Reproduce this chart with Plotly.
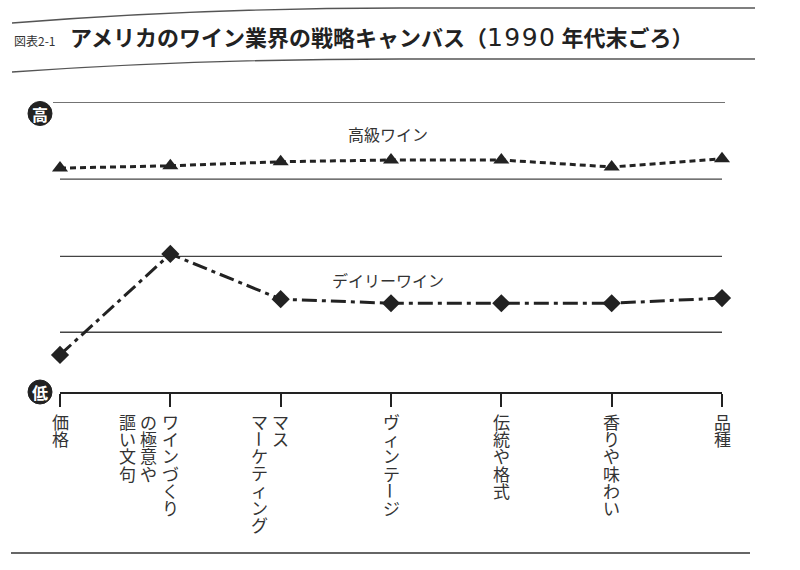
import plotly.graph_objects as go

# ---------------- data ----------------
label_columns = [
    ["価格"],
    ["ワインづくり", "の極意や", "謳い文句"],
    ["マス", "マーケティング"],
    ["ヴィンテージ"],
    ["伝統や格式"],
    ["香りや味わい"],
    ["品種"],
]
categories = ["".join(c) for c in label_columns]

premium_name = "高級ワイン"
premium_values = [3.86, 3.90, 3.97, 4.00, 4.00, 3.88, 4.02]

daily_name = "デイリーワイン"
daily_values = [0.64, 2.38, 1.60, 1.53, 1.53, 1.53, 1.62]

grid_levels = [1.03, 2.34, 3.67, 5.0]
y_range = [0, 5]

fig_label = "図表2-1"
title_main = "アメリカのワイン業界の戦略キャンバス（"
title_year = "1990"
title_tail = " 年代末ごろ）"
high_label = "高"
low_label = "低"

# ---------------- layout constants ----------------
W, H = 800, 570
ML, MR, MT, MB = 60, 78, 102, 178
PW = W - ML - MR
PH = H - MT - MB
FONT = "Noto Sans CJK JP"
INK = "#222222"


def px(X):
    return (X - ML) / PW


def py(Y):
    return (H - MB - Y) / PH


def P(X, Y):
    return f"{px(X):.5f},{py(Y):.5f}"


fig = go.Figure()

fig.add_trace(go.Scatter(
    x=categories, y=premium_values, mode="lines+markers", name=premium_name,
    line=dict(color=INK, width=3, dash="6px,4px"),
    marker=dict(symbol="triangle-up", size=14, color=INK),
    cliponaxis=False, showlegend=False,
))
fig.add_trace(go.Scatter(
    x=categories, y=daily_values, mode="lines+markers", name=daily_name,
    line=dict(color=INK, width=3, dash="15px,5px,4px,5px"),
    marker=dict(symbol="diamond", size=14, color=INK),
    cliponaxis=False, showlegend=False,
))

shapes = []
top_level = max(grid_levels)
for lv in grid_levels:
    x0 = px(53) if lv == top_level else 0
    x1 = px(725) if lv == top_level else 1
    shapes.append(dict(type="line", xref="paper", yref="y", x0=x0, x1=x1,
                       y0=lv, y1=lv, line=dict(color="#444444", width=1.3),
                       layer="below"))

# page rules (decoration)
shapes.append(dict(type="path", xref="paper", yref="paper",
                   path=f"M {P(12,23)} Q {P(200,8)} {P(400,8)} L {P(755,8)}",
                   line=dict(color="#555555", width=1.3)))
shapes.append(dict(type="path", xref="paper", yref="paper",
                   path=f"M {P(12,72)} Q {P(200,59)} {P(400,59)} L {P(755,59)}",
                   line=dict(color="#555555", width=1.3)))
shapes.append(dict(type="line", xref="paper", yref="paper",
                   x0=px(11), x1=px(750), y0=py(553), y1=py(553),
                   line=dict(color="#333333", width=1.5)))

# high / low badges
badges = [(high_label, 113.5), (low_label, 392)]
for lab, Yc in badges:
    shapes.append(dict(type="circle", xref="paper", yref="paper",
                       xsizemode="pixel", ysizemode="pixel",
                       xanchor=px(40), yanchor=py(Yc),
                       x0=-12, x1=12, y0=-12, y1=12,
                       fillcolor=INK, line=dict(color=INK, width=1)))

annotations = []
for lab, Yc in badges:
    annotations.append(dict(text=f"<b>{lab}</b>", xref="paper", yref="paper",
                            x=px(40), y=py(Yc), showarrow=False,
                            font=dict(family=FONT, size=16, color="white"),
                            xanchor="center", yanchor="middle"))

# title
annotations.append(dict(text=fig_label, xref="paper", yref="paper",
                        x=px(12), y=py(40), xanchor="left", yanchor="middle",
                        showarrow=False,
                        font=dict(family=FONT, size=12, color="#333333")))
annotations.append(dict(
    text=(f"{title_main}<span style='font-family:DejaVu Sans;font-size:25px;"
          f"font-weight:normal;letter-spacing:1.5px'>{title_year}</span>"
          f"{title_tail}"),
    xref="paper", yref="paper", x=px(68), y=py(36.5),
    xanchor="left", yanchor="middle", showarrow=False,
    font=dict(family=FONT, size=22, color=INK, weight="bold")))

# series labels
annotations.append(dict(text=premium_name, xref="paper", yref="paper",
                        x=px(388), y=py(134), xanchor="center",
                        yanchor="middle", showarrow=False,
                        font=dict(family=FONT, size=16, color="#333333")))
annotations.append(dict(text=daily_name, xref="paper", yref="paper",
                        x=px(388), y=py(280), xanchor="center",
                        yanchor="middle", showarrow=False,
                        font=dict(family=FONT, size=16, color="#333333")))

# vertical (tategaki) axis labels: one annotation per run of upright chars,
# the long-vowel mark drawn rotated on its own.
PITCH = 17.2
CHAR = 17
COLGAP = 21.5
FIRST_CENTER = 421.5
AXIS_Y = H - MB


def runs(col):
    out, cur, start = [], "", 0
    for k, ch in enumerate(col):
        if ch == "ー":
            if cur:
                out.append((cur, start, 0))
            out.append((ch, k, 90))
            cur, start = "", k + 1
        else:
            if not cur:
                start = k
            cur += ch
    if cur:
        out.append((cur, start, 0))
    return out


for cat, cols in zip(categories, label_columns):
    for j, col in enumerate(cols):
        for txt, k0, ang in runs(col):
            n = len(txt)
            center = FIRST_CENTER + (k0 + (n - 1) / 2) * PITCH
            body = "<br>".join(
                f"<span style='font-size:{CHAR}px'>{c}</span>" for c in txt)
            annotations.append(dict(
                text=body, xref="x", yref="paper", x=cat, y=0,
                xshift=-COLGAP * j, yshift=-(center - AXIS_Y),
                textangle=ang, align="center",
                xanchor="center", yanchor="middle", showarrow=False,
                font=dict(family=FONT, size=PITCH / 1.3, color="#333333")))

fig.update_layout(
    width=W, height=H,
    margin=dict(l=ML, r=MR, t=MT, b=MB),
    paper_bgcolor="white", plot_bgcolor="white",
    shapes=shapes, annotations=annotations,
    xaxis=dict(type="category", range=[0, len(categories) - 1],
               showgrid=False, zeroline=False, showline=True,
               linecolor=INK, linewidth=1.5, ticks="outside", ticklen=13,
               tickwidth=1.5, tickcolor=INK, showticklabels=False,
               fixedrange=True),
    yaxis=dict(range=y_range, visible=False, showgrid=False, zeroline=False,
               fixedrange=True),
    font=dict(family=FONT, color=INK),
)

fig.write_html("out.html", config={"displayModeBar": False},
               post_script="document.body.style.margin='0';"
                           "document.body.style.padding='0';")
